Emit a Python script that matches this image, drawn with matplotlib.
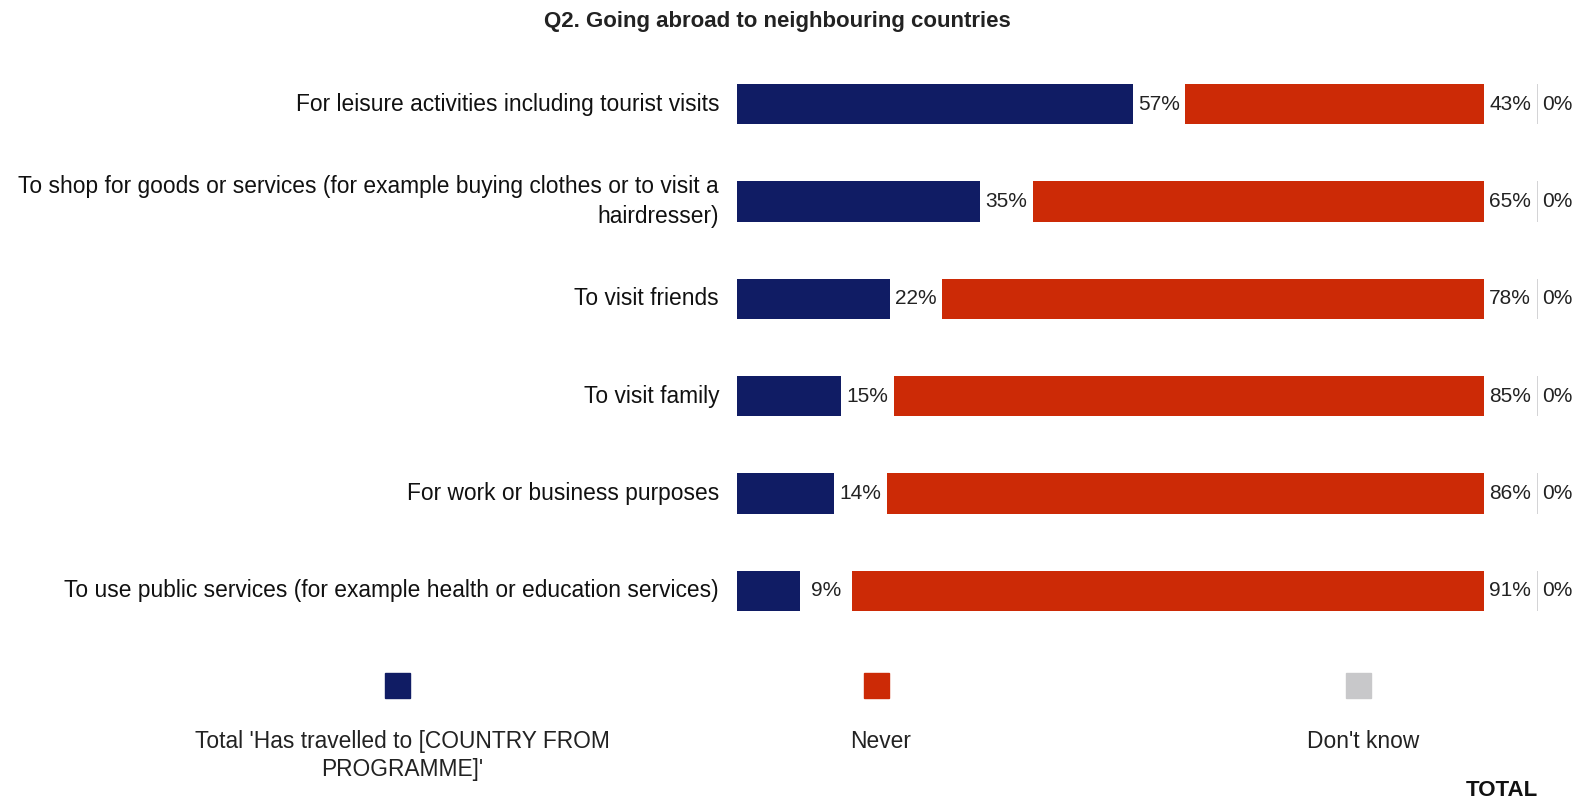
import matplotlib
matplotlib.use("Agg")
import matplotlib.pyplot as plt
from matplotlib.patches import Rectangle
import numpy as np

plt.rcParams["font.family"] = ["Liberation Sans Narrow", "Liberation Sans", "DejaVu Sans"]

title = "Q2. Going abroad to neighbouring countries"
categories = [
    "For leisure activities including tourist visits",
    "To shop for goods or services (for example buying clothes or to visit a\nhairdresser)",
    "To visit friends",
    "To visit family",
    "For work or business purposes",
    "To use public services (for example health or education services)",
]
travelled = [57, 35, 22, 15, 14, 9]
never = [43, 65, 78, 85, 86, 91]
dont_know = [0, 0, 0, 0, 0, 0]

series_names = ["Total 'Has travelled to [COUNTRY FROM\nPROGRAMME]'", "Never", "Don't know"]
colors = ["#101C64", "#CC2A06", "#C8C8CA"]

W, H = 1583, 802
fig = plt.figure(figsize=(W / 100, H / 100), dpi=100)

# axes laid out in pixels: bars start at x=737, rows ~97 px apart
px_per_pct = 6.945
ax_l, ax_r = 737, 1580
ax_top, ax_bot = 55.3, 639.7
ax = fig.add_axes([ax_l / W, 1 - ax_bot / H, (ax_r - ax_l) / W, (ax_bot - ax_top) / H])
ax.set_xlim(0, (ax_r - ax_l) / px_per_pct)
ax.set_ylim(len(categories) - 0.5, -0.5)
ax.axis("off")

gap = 52.5 / px_per_pct
bar_h = 0.415
y = np.arange(len(categories))
fs = 15

for i in range(len(categories)):
    x0 = 0
    ax.barh(y[i], travelled[i], left=x0, height=bar_h, color=colors[0])
    ax.text(x0 + travelled[i] + gap / 2, y[i], f"{travelled[i]}%", ha="center", va="center",
            fontsize=fs, color="#222222")
    x1 = x0 + travelled[i] + gap
    ax.barh(y[i], never[i], left=x1, height=bar_h, color=colors[1])
    ax.text(x1 + never[i] + gap / 2, y[i], f"{never[i]}%", ha="center", va="center",
            fontsize=fs, color="#222222")
    x2 = x1 + never[i] + gap
    # 0% "don't know" shows as a hairline
    ax.barh(y[i], max(dont_know[i], 0.22), left=x2, height=bar_h, color="#D4D4D6")
    ax.text(x2 + dont_know[i] + 0.8, y[i], f"{dont_know[i]}%", ha="left", va="center",
            fontsize=fs, color="#222222")
    ax.text(-18 / px_per_pct, y[i], categories[i], ha="right", va="center",
            fontsize=16.4, color="#111111", linespacing=1.35)

fig.text(777 / W, 1 - 21 / H, title, ha="center", va="center", fontsize=16,
         fontweight="bold", color="#222222")

# legend
leg_x = [397, 876, 1358]
sq = 25
for cx, name, c in zip(leg_x, series_names, colors):
    fig.add_artist(Rectangle(((cx - sq / 2) / W, 1 - (685 + sq / 2) / H), sq / W, sq / H,
                             transform=fig.transFigure, color=c))
    fig.text((cx + 5) / W, 1 - 730 / H, name, ha="center", va="top", fontsize=16.4,
             color="#222222", linespacing=1.3)

fig.text(1502 / W, 1 - 790 / H, "TOTAL", ha="center", va="center", fontsize=16,
         fontweight="bold", color="#111111")

fig.savefig("out.png", dpi=100)
